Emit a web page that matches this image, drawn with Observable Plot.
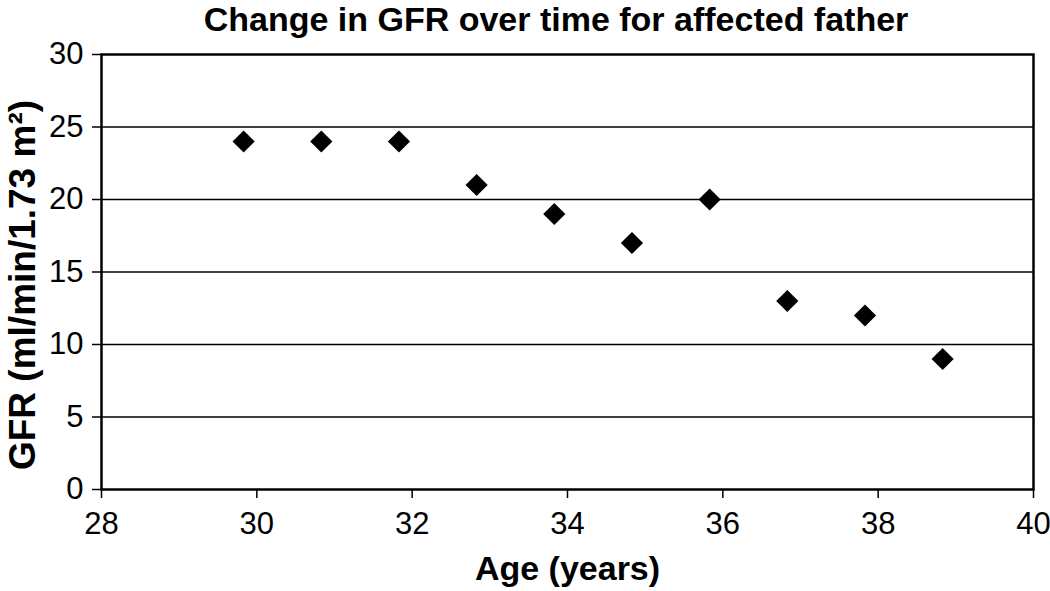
<!DOCTYPE html>
<html>
<head>
<meta charset="utf-8">
<script src="https://cdn.jsdelivr.net/npm/d3@7"></script>
<script src="https://cdn.jsdelivr.net/npm/@observablehq/plot@0.6"></script>
<style>
  html, body { margin: 0; padding: 0; background: #fff; }
  body { width: 1050px; height: 591px; overflow: hidden; font-family: "Liberation Sans", Arial, sans-serif; }
  #title { height: 30px; line-height: 38px; font-size: 34px; font-weight: bold; text-align: center; color: #000; padding-left: 62px; box-sizing: border-box; width: 1050px; white-space: nowrap; position: relative; z-index: 1; }
  g[aria-label$="tick label"], g[aria-label$="tick label"] text { font-size: 31px !important; }
</style>
</head>
<body>
<div id="title">Change in GFR over time for affected father</div>
<div id="chart"></div>
<script>
const ages = [29.83, 30.83, 31.83, 32.83, 33.83, 34.83, 35.83, 36.83, 37.83, 38.83];
const gfr = [24, 24, 24, 21, 19, 17, 20, 13, 12, 9];
const xTicks = [28, 30, 32, 34, 36, 38, 40];
const yTicks = [0, 5, 10, 15, 20, 25, 30];
const xLabel = "Age (years)";
const yLabel = "GFR (ml/min/1.73 m²)";

const data = ages.map((a, i) => ({age: a, gfr: gfr[i]}));

const chart = Plot.plot({
  width: 1050,
  height: 561,
  marginTop: 24,
  marginBottom: 102,
  marginLeft: 101,
  marginRight: 17,
  style: {fontFamily: "'Liberation Sans', Arial, sans-serif", fontSize: "31px", color: "#000", background: "transparent"},
  x: {domain: [28, 40], ticks: xTicks, label: null},
  y: {domain: [0, 30], ticks: yTicks, label: null},
  marks: [
    Plot.ruleY(yTicks.filter(d => d > 0 && d < 30), {stroke: "#000", strokeWidth: 1.5}),
    Plot.frame({stroke: "#000", strokeWidth: 2.5}),
    Plot.axisX({ticks: xTicks, tickSize: 9, tickPadding: 13, tickFormat: d => String(d), fontSize: 31, strokeWidth: 1.5, label: null}),
    Plot.axisY({ticks: yTicks, tickSize: 9, tickPadding: 9, tickFormat: d => String(d), fontSize: 31, strokeWidth: 1.5, label: null}),
    Plot.dot(data, {x: "age", y: "gfr", symbol: "diamond2", r: 10, fill: "#000", stroke: "none"}),
    Plot.text([xLabel], {frameAnchor: "bottom", text: d => d, dy: 80, lineAnchor: "middle", fontSize: 34, fontWeight: "bold", fill: "#000"}),
    Plot.text([yLabel], {frameAnchor: "left", text: d => d, rotate: -90, textAnchor: "middle", dx: -78, dy: 13, lineAnchor: "middle", fontSize: 37, fontWeight: "bold", fill: "#000"})
  ]
});
chart.style.marginTop = "0";
document.getElementById("chart").appendChild(chart);
</script>
</body>
</html>
